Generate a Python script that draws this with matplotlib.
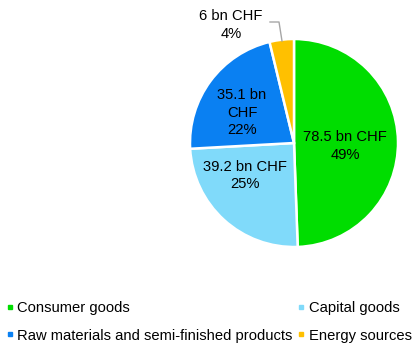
import matplotlib
matplotlib.use("Agg")
import matplotlib.pyplot as plt
from matplotlib.lines import Line2D

plt.rcParams["font.family"] = ["Liberation Sans", "DejaVu Sans"]

categories = ["Consumer goods", "Capital goods",
              "Raw materials and semi-finished products", "Energy sources"]
values_bn = [78.5, 39.2, 35.1, 6]
shares = [49, 25, 22, 4]
slice_labels = ["78.5 bn CHF\n49%", "39.2 bn CHF\n25%",
                "35.1 bn\nCHF\n22%", "6 bn CHF\n4%"]
colors = ["#00DD00", "#80DAFA", "#0A80F2", "#FFC000"]

# layout in pixel-like units (y grows upwards)
W, H = 414, 347
CX, CY, R = 294, 204, 104
label_xy = [(345, 201), (245, 171.5), (242, 234.5), (231, 322)]

fig = plt.figure(figsize=(W / 100, H / 100), dpi=100)
ax = fig.add_axes([0, 0, 1, 1])

wedges, _ = ax.pie(values_bn, colors=colors, startangle=90, counterclock=False,
                   center=(CX, CY), radius=R,
                   wedgeprops=dict(edgecolor="white", linewidth=1.8))
ax.set_xlim(0, W)
ax.set_ylim(0, H)
ax.set_aspect("equal")
ax.axis("off")

for txt, (x, y) in zip(slice_labels, label_xy):
    ax.text(x, y, txt, ha="center", va="center", fontsize=10.6,
            linespacing=1.35, color="#000000")

# leader line for the small energy slice
ax.plot([270, 279, 282], [H - 22, H - 22, H - 41], color="#A6A6A6", lw=1.0)

handles = [Line2D([], [], marker="s", ls="", color=c, markersize=3.5)
           for c in colors]
order = [0, 2, 1, 3]
ax.legend([handles[i] for i in order], [categories[i] for i in order],
          ncol=2, loc="upper left", bbox_to_anchor=(0.006, 0.14),
          frameon=False, fontsize=10.6, handlelength=0.6, handletextpad=0.2,
          columnspacing=0.3, labelspacing=0.9, borderaxespad=0,
          borderpad=0.2)

fig.savefig("out.png", dpi=100)
